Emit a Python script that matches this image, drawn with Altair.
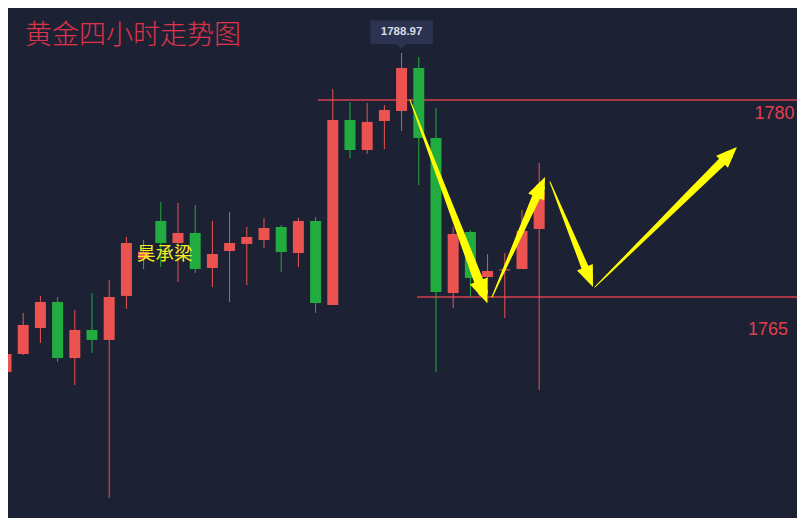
import altair as alt
import pandas as pd
import numpy as np

# ---- data ----
opens  = [1759.29, 1760.66, 1762.64, 1764.62, 1760.35, 1762.49, 1761.73, 1765.08,
          1767.90, 1770.79, 1769.11, 1769.87, 1767.21, 1768.50, 1769.04, 1769.34,
          1770.33, 1768.35, 1770.79, 1764.39, 1778.48, 1776.19, 1778.40, 1779.16,
          1782.44, 1777.11, 1765.30, 1769.95, 1766.52, 1767.02, 1767.13, 1770.18]
highs  = [1765.30, 1763.78, 1765.08, 1765.00, 1764.01, 1765.30, 1766.29, 1769.57,
          1769.34, 1772.23, 1772.16, 1772.00, 1770.79, 1771.47, 1770.33, 1771.02,
          1770.48, 1771.02, 1771.09, 1780.84, 1779.85, 1779.77, 1779.62, 1783.58,
          1783.27, 1779.39, 1770.33, 1770.10, 1768.27, 1768.35, 1771.62, 1775.20]
lows   = [1756.17, 1760.58, 1761.50, 1760.05, 1758.30, 1760.74, 1749.70, 1764.09,
          1767.13, 1767.28, 1766.14, 1766.83, 1765.76, 1764.62, 1765.91, 1768.73,
          1766.90, 1767.28, 1763.78, 1764.39, 1775.58, 1775.89, 1776.27, 1777.64,
          1773.53, 1759.29, 1764.16, 1765.00, 1764.54, 1763.40, 1767.13, 1757.92]
closes = [1760.66, 1762.87, 1764.62, 1760.35, 1762.49, 1761.73, 1765.00, 1769.11,
          1768.45, 1769.11, 1769.87, 1767.13, 1768.27, 1769.11, 1769.57, 1770.25,
          1768.43, 1770.79, 1764.54, 1778.48, 1776.19, 1778.33, 1779.24, 1782.44,
          1777.11, 1765.38, 1769.80, 1766.45, 1766.98, 1767.10, 1770.03, 1773.00]

levels = [1780, 1765]
level_labels = ["1780", "1765"]
level_starts = [18.14, 23.9]
label_pos = [45.85, 45.47]

# arrows: (start index, start price) -> (tip index, tip price)
arrow_x0 = [23.49, 28.26, 31.63, 34.24]
arrow_y0 = [1780.00, 1765.00, 1773.76, 1765.76]
arrow_x1 = [27.97, 31.34, 34.13, 42.50]
arrow_y1 = [1764.54, 1774.14, 1765.76, 1776.42]
arrow_w  = [10, 9, 8, 9]
head_sz  = [560, 480, 460, 440]

peak_label = "1788.97"
title_text = "黄金四小时走势图"
watermark = "昊承梁"

# ---- styling ----
BG = "#1c2134"
RED = "#eb5350"
GREEN = "#22ab3f"
LEVEL = "#d9414c"
YELLOW = "#ffff00"

W, H = 789, 510
XD = [0.1163, 45.99]
YD = [1748.17, 1787.005]
px_x = W / (XD[1] - XD[0])
px_y = H / (YD[1] - YD[0])

df = pd.DataFrame({"i": range(len(opens)), "open": opens, "high": highs,
                   "low": lows, "close": closes})
df["up"] = (df["close"] >= df["open"]).astype(int)

xs = alt.Scale(domain=XD, nice=False, zero=False, padding=0)
ys = alt.Scale(domain=YD, nice=False, zero=False, padding=0)
X = alt.X("i:Q", scale=xs, axis=None)
col = alt.condition("datum.up == 1", alt.value(RED), alt.value(GREEN))

base = alt.Chart(df)
wicks = base.mark_rule(strokeWidth=1).encode(
    x=X, y=alt.Y("low:Q", scale=ys, axis=None), y2="high:Q", color=col)
bodies = base.mark_bar(size=11).encode(
    x=X, y=alt.Y("open:Q", scale=ys, axis=None), y2="close:Q", color=col)

lv = pd.DataFrame({"y": levels, "x0": level_starts, "x1": [47, 47],
                   "lab": level_labels, "lx": label_pos})
level_rules = alt.Chart(lv).mark_rule(color=LEVEL, strokeWidth=1.5).encode(
    x=alt.X("x0:Q", scale=xs, axis=None), x2="x1:Q",
    y=alt.Y("y:Q", scale=ys, axis=None))
lab1 = alt.Chart(lv.iloc[[0]]).mark_text(
    align="right", baseline="middle", dy=14, fontSize=18, font="Liberation Sans",
    color="#e0404e").encode(x=alt.X("lx:Q", scale=xs, axis=None),
                             y=alt.Y("y:Q", scale=ys, axis=None), text="lab:N")
lab2 = alt.Chart(lv.iloc[[1]]).mark_text(
    align="right", baseline="middle", dy=33, fontSize=18, font="Liberation Sans",
    color="#e0404e").encode(x=alt.X("lx:Q", scale=xs, axis=None),
                             y=alt.Y("y:Q", scale=ys, axis=None), text="lab:N")

# arrows: tapered trail + triangular head
rows, heads = [], []
for k in range(len(arrow_x0)):
    dxp = (arrow_x1[k] - arrow_x0[k]) * px_x
    dyp = -(arrow_y1[k] - arrow_y0[k]) * px_y
    L = np.hypot(dxp, dyp)
    f = (L - 12) / L
    n = 12
    for j in range(n + 1):
        t = f * j / n
        rows.append({"a": k, "s": j,
                     "x": arrow_x0[k] + t * (arrow_x1[k] - arrow_x0[k]),
                     "y": arrow_y0[k] + t * (arrow_y1[k] - arrow_y0[k]),
                     "w": 1 + (arrow_w[k] - 1) * j / n})
    ang = float(np.degrees(np.arctan2(dxp, -dyp))) % 360
    heads.append({"a": k, "x": arrow_x1[k], "y": arrow_y1[k], "ang": ang,
                  "sz": head_sz[k]})
tr = pd.DataFrame(rows)
hd = pd.DataFrame(heads)
trails = alt.Chart(tr).mark_trail(color=YELLOW).encode(
    x=alt.X("x:Q", scale=xs, axis=None), y=alt.Y("y:Q", scale=ys, axis=None),
    size=alt.Size("w:Q", scale=None, legend=None), detail="a:N", order="s:Q")
head_marks = alt.Chart(hd).mark_point(
    shape="M0,0L0.8,2L-0.8,2Z", filled=True, opacity=1,
    color=YELLOW, strokeWidth=0).encode(
    x=alt.X("x:Q", scale=xs, axis=None), y=alt.Y("y:Q", scale=ys, axis=None),
    size=alt.Size("sz:Q", scale=None, legend=None),
    angle=alt.Angle("ang:Q", scale=None))

# peak callout
pk = df.loc[[df["high"].idxmax()]].assign(lab=peak_label)
callout = alt.Chart(pk).mark_point(
    shape="M0,0L-0.4,-0.4L-2.6,-0.4L-2.6,-2.4L2.6,-2.4L2.6,-0.4L0.4,-0.4Z",
    filled=True, opacity=1, size=576, color="#2b3350", strokeWidth=0, yOffset=-4).encode(
    x=X, y=alt.Y("high:Q", scale=ys, axis=None))
callout_txt = alt.Chart(pk).mark_text(
    baseline="middle", dy=-21, fontSize=11.5, fontWeight="bold", font="Liberation Sans",
    color="#d8dce6").encode(x=X, y=alt.Y("high:Q", scale=ys, axis=None), text="lab:N")

title = alt.Chart(pd.DataFrame({"t": [title_text]})).mark_text(
    align="left", baseline="middle", fontSize=27, font="Noto Sans CJK SC",
    fontWeight=300, color="#e0334a").encode(x=alt.value(17), y=alt.value(28), text="t:N")
wm = alt.Chart(pd.DataFrame({"t": [watermark]})).mark_text(
    align="left", baseline="middle", fontSize=18.5, font="Noto Sans CJK SC",
    color="#f0f020").encode(x=alt.value(129), y=alt.value(246), text="t:N")

chart = alt.layer(
    level_rules, wicks, bodies, wm, trails, head_marks, lab1, lab2,
    callout, callout_txt, title
).properties(
    width=W, height=H, padding=0, background=BG,
    autosize=alt.AutoSizeParams(type="none", contains="padding")
).configure_view(stroke=None)

chart.save("out.html", embed_options={"renderer": "svg", "actions": False})
